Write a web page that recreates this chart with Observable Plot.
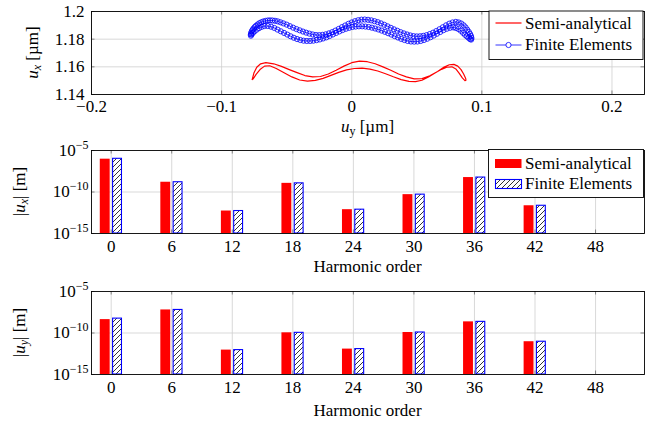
<!DOCTYPE html>
<html><head><meta charset="utf-8">
<script src="https://cdn.jsdelivr.net/npm/d3@7"></script>
<script src="https://cdn.jsdelivr.net/npm/@observablehq/plot@0.6"></script>
<style>
html,body{margin:0;padding:0;background:#fff;}
#wrap{position:relative;width:655px;height:423px;overflow:hidden;font-family:"Liberation Serif","Times New Roman",serif;}
#wrap > div{position:absolute;left:0;}
</style></head><body>
<svg width="0" height="0" style="position:absolute"><defs>
<pattern id="hatch" patternUnits="userSpaceOnUse" width="5" height="5">
<rect width="5" height="5" fill="white"/>
<path d="M-1,1 L1,-1 M0,5 L5,0 M4,6 L6,4" stroke="#000000" stroke-width="0.8"/>
</pattern></defs></svg>
<div id="wrap"></div>
<script>
// ---------- Data ----------
// Semi-analytical trajectory (u_y, u_x) in µm
const semiUy = [-0.0765,-0.0752,-0.0730,-0.0700,-0.0660,-0.0600,-0.0540,-0.0480,-0.0420,-0.0360,-0.0300,-0.0240,-0.0180,-0.0120,-0.0060,0.0000,0.0060,0.0120,0.0180,0.0240,0.0300,0.0360,0.0420,0.0480,0.0540,0.0600,0.0660,0.0710,0.0750,0.0785,0.0815,0.0840,0.0860,0.0875,0.0878,
  0.0870,0.0850,0.0825,0.0800,0.0770,0.0730,0.0690,0.0640,0.0590,0.0540,0.0490,0.0440,0.0380,0.0320,0.0260,0.0200,0.0140,0.0080,0.0020,-0.0040,-0.0100,-0.0160,-0.0220,-0.0280,-0.0340,-0.0400,-0.0460,-0.0520,-0.0580,-0.0630,-0.0670,-0.0705,-0.0735,-0.0758,-0.0765];
const semiUx = [1.1508,1.1555,1.1597,1.1622,1.1630,1.1622,1.1603,1.1580,1.1558,1.1537,1.1527,1.1530,1.1548,1.1575,1.1605,1.1630,1.1641,1.1637,1.1622,1.1600,1.1575,1.1548,1.1527,1.1513,1.1515,1.1535,1.1567,1.1598,1.1615,1.1618,1.1605,1.1580,1.1548,1.1518,1.1503,
  1.1500,1.1520,1.1555,1.1585,1.1600,1.1597,1.1582,1.1556,1.1527,1.1503,1.1493,1.1495,1.1508,1.1528,1.1550,1.1570,1.1584,1.1590,1.1588,1.1578,1.1560,1.1538,1.1517,1.1502,1.1497,1.1505,1.1527,1.1557,1.1588,1.1608,1.1605,1.1580,1.1545,1.1512,1.1508];
// Finite-element trajectory (u_y, u_x) in µm
const feUy = [-0.0775,-0.0773,-0.0768,-0.0762,-0.0755,-0.0745,-0.0735,-0.0723,-0.0710,-0.0695,-0.0680,-0.0663,-0.0645,-0.0628,-0.0610,-0.0590,-0.0570,-0.0548,-0.0525,-0.0500,-0.0475,-0.0450,-0.0425,-0.0400,-0.0375,-0.0350,-0.0325,-0.0300,-0.0275,-0.0250,-0.0225,-0.0200,-0.0175,-0.0150,-0.0125,-0.0100,-0.0075,-0.0050,-0.0025,0.0000,0.0025,0.0050,0.0075,0.0100,0.0125,0.0150,0.0175,0.0200,0.0225,0.0250,0.0275,0.0300,0.0325,0.0350,0.0375,0.0400,0.0425,0.0450,0.0475,0.0500,0.0525,0.0550,0.0575,0.0600,0.0625,0.0650,0.0675,0.0700,0.0725,0.0750,0.0775,0.0800,0.0822,0.0842,0.0860,0.0875,0.0888,0.0900,0.0910,0.0917,0.0920,
  0.0918,0.0910,0.0898,0.0885,0.0870,0.0855,0.0838,0.0820,0.0800,0.0780,0.0755,0.0730,0.0705,0.0680,0.0655,0.0630,0.0605,0.0580,0.0555,0.0530,0.0505,0.0480,0.0455,0.0430,0.0405,0.0380,0.0355,0.0330,0.0305,0.0280,0.0255,0.0230,0.0205,0.0180,0.0155,0.0130,0.0105,0.0080,0.0055,0.0030,0.0005,-0.0020,-0.0045,-0.0070,-0.0095,-0.0120,-0.0145,-0.0170,-0.0195,-0.0220,-0.0245,-0.0270,-0.0295,-0.0320,-0.0345,-0.0370,-0.0395,-0.0420,-0.0445,-0.0470,-0.0495,-0.0520,-0.0545,-0.0570,-0.0595,-0.0620,-0.0645,-0.0670,-0.0692,-0.0712,-0.0730,-0.0747,-0.0760,-0.0770,-0.0775];
const feUx = [1.1835,1.1845,1.1857,1.1867,1.1877,1.1888,1.1897,1.1906,1.1915,1.1922,1.1928,1.1932,1.1935,1.1936,1.1935,1.1933,1.1929,1.1922,1.1914,1.1905,1.1894,1.1883,1.1873,1.1864,1.1855,1.1847,1.1840,1.1834,1.1830,1.1829,1.1831,1.1835,1.1842,1.1851,1.1862,1.1874,1.1887,1.1899,1.1911,1.1921,1.1930,1.1937,1.1941,1.1942,1.1940,1.1936,1.1930,1.1923,1.1914,1.1904,1.1893,1.1882,1.1871,1.1861,1.1851,1.1842,1.1834,1.1827,1.1822,1.1820,1.1821,1.1824,1.1829,1.1837,1.1847,1.1859,1.1872,1.1886,1.1900,1.1912,1.1921,1.1925,1.1921,1.1913,1.1900,1.1885,1.1868,1.1852,1.1837,1.1822,1.1808,
  1.1797,1.1800,1.1810,1.1820,1.1832,1.1846,1.1861,1.1873,1.1881,1.1885,1.1882,1.1875,1.1865,1.1852,1.1839,1.1826,1.1814,1.1803,1.1794,1.1787,1.1783,1.1782,1.1783,1.1787,1.1794,1.1802,1.1812,1.1822,1.1833,1.1843,1.1853,1.1862,1.1870,1.1877,1.1883,1.1888,1.1891,1.1893,1.1893,1.1891,1.1888,1.1882,1.1875,1.1866,1.1856,1.1845,1.1834,1.1823,1.1813,1.1805,1.1798,1.1793,1.1789,1.1787,1.1787,1.1789,1.1794,1.1801,1.1810,1.1821,1.1833,1.1845,1.1857,1.1869,1.1881,1.1890,1.1895,1.1895,1.1889,1.1880,1.1869,1.1857,1.1845,1.1834,1.1825];

const trajXTicks = [-0.2,-0.1,0,0.1,0.2];
const trajXLabels = ["\u22120.2","\u22120.1","0","0.1","0.2"];
const trajYTicks = [1.14,1.16,1.18,1.2];
const trajYLabels = ["1.14","1.16","1.18","1.2"];

// Harmonic amplitudes [m]
const harmonics = [0,6,12,18,24,30,36,42];
const uxSemi = [9.0e-7,1.5e-9,5.1e-13,1.1e-9,7.4e-13,4.8e-11,5.5e-9,2.2e-12];
const uxFE   = [1.0e-6,1.5e-9,5.1e-13,1.1e-9,7.4e-13,4.8e-11,5.5e-9,2.2e-12];
const uySemi = [4.1e-9,6.0e-8,8.7e-13,1.05e-10,1.15e-12,1.15e-10,2.2e-9,8.9e-12];
const uyFE   = [5.4e-9,6.0e-8,8.7e-13,1.05e-10,1.15e-12,1.15e-10,2.2e-9,8.9e-12];
const harmonicTicks = [0,6,12,18,24,30,36,42,48];
const harmonicLabels = ["0","6","12","18","24","30","36","42","48"];
const logTicks = [1e-15,1e-10,1e-5];
const logLabels = ["10^\u221215","10^\u221210","10^\u22125"];

// ---------- Rendering ----------
const FONT = '"Liberation Serif","Times New Roman",serif';
const GRID = "#cfcfcf", TICK = "#5a5a5a";
const W = 655, ML = 91, MR = 11;
const style = {fontFamily: FONT, fontSize: "17px", color: "black", background: "transparent", overflow: "visible"};
const fmt = (ticks, labels) => { const m = new Map(ticks.map((t,i)=>[t, labels[i]])); return d => m.get(d) ?? ""; };

function innerTicks(xt, yt, fw, fh) {
  const o = {stroke: TICK, strokeWidth: 0.7};
  return [
    Plot.ruleX(xt, {...o, insetBottom: fh - 3.5}),
    Plot.ruleX(xt, {...o, insetTop: fh - 3.5}),
    Plot.ruleY(yt, {...o, insetRight: fw - 3.5}),
    Plot.ruleY(yt, {...o, insetLeft: fw - 3.5})
  ];
}

function supify(svg) {
  d3.select(svg).selectAll("text").each(function() {
    const m = /^10\^(.+)$/.exec(this.textContent);
    if (!m) return;
    const s = d3.select(this);
    s.text(null);
    s.append("tspan").text("10");
    s.append("tspan").attr("font-size", "12px").attr("dy", "-7").text(m[1]);
  });
}

function label(svg, x, y, parts, rotate) {
  const t = d3.select(svg).append("text")
    .attr("transform", `translate(${x},${y})` + (rotate ? " rotate(-90)" : ""))
    .attr("text-anchor", "middle").attr("font-family", FONT).attr("font-size", 17).attr("fill", "black");
  for (const p of parts) {
    const ts = t.append("tspan").text(p.t);
    if (p.i) ts.attr("font-style", "italic");
    if (p.s) ts.attr("font-size", 12);
    if (p.dy) ts.attr("dy", p.dy);
  }
}

function legendText(g, x, y, s) {
  g.append("text").attr("x", x).attr("y", y).attr("text-anchor", "start")
    .attr("font-family", FONT).attr("font-size", 17).attr("fill", "black").text(s);
}

const wrap = document.getElementById("wrap");
function place(svg, top) { const d = document.createElement("div"); d.style.top = top + "px"; d.appendChild(svg); wrap.appendChild(d); }

// Plot 1: trajectory
const semi = semiUy.map((v,i)=>({uy: v, ux: semiUx[i]}));
const fe = feUy.map((v,i)=>({uy: v, ux: feUx[i]}));
const H1 = 140, MT1 = 11, MB1 = 46;
const p1 = Plot.plot({
  width: W, height: H1, marginTop: MT1, marginBottom: MB1, marginLeft: ML, marginRight: MR, style,
  x: {domain: [-0.2, 0.225], ticks: trajXTicks, tickFormat: fmt(trajXTicks, trajXLabels), tickSize: 0, tickPadding: 5, label: null},
  y: {domain: [1.14, 1.2], ticks: trajYTicks, tickFormat: fmt(trajYTicks, trajYLabels), tickSize: 0, tickPadding: 7, label: null},
  marks: [
    Plot.ruleX(trajXTicks, {stroke: GRID, strokeWidth: 0.8}),
    Plot.ruleY(trajYTicks, {stroke: GRID, strokeWidth: 0.8}),
    ...innerTicks(trajXTicks, trajYTicks, W - ML - MR, H1 - MT1 - MB1),
    Plot.line(semi, {x: "uy", y: "ux", stroke: "#ff0000", strokeWidth: 1.2}),
    Plot.line(fe, {x: "uy", y: "ux", stroke: "#0000ff", strokeWidth: 0.8}),
    Plot.dot(fe, {x: "uy", y: "ux", r: 2.6, stroke: "#0000ff", strokeWidth: 0.8, fill: "none"}),
    Plot.frame({stroke: "black", strokeWidth: 0.9})
  ]
});
{
  const g = d3.select(p1).append("g");
  g.append("rect").attr("x", 489).attr("y", 11).attr("width", 154).attr("height", 48.5).attr("fill", "white").attr("stroke", "black").attr("stroke-width", 0.9);
  g.append("line").attr("x1", 495.5).attr("x2", 521.5).attr("y1", 23).attr("y2", 23).attr("stroke", "#ff0000").attr("stroke-width", 1.2);
  g.append("line").attr("x1", 495.5).attr("x2", 521.5).attr("y1", 45).attr("y2", 45).attr("stroke", "#0000ff").attr("stroke-width", 0.8);
  g.append("circle").attr("cx", 508.5).attr("cy", 45).attr("r", 2.6).attr("fill", "white").attr("stroke", "#0000ff").attr("stroke-width", 0.8);
  legendText(g, 525, 28.5, "Semi-analytical");
  legendText(g, 525, 50, "Finite Elements");
}
label(p1, 38, 52.5, [{t: "u", i: 1}, {t: "x", i: 1, s: 1, dy: 3}, {t: " [µm]", dy: -3}], true);
label(p1, 367.5, 132, [{t: "u", i: 1}, {t: "y", s: 1, dy: 3}, {t: " [µm]", dy: -3}], false);
place(p1, 0);

// Bar plots
function barPlot(uSemi, uFE, height, mt, mb) {
  const rows = harmonics.map((h,i)=>({h, semi: uSemi[i], fe: uFE[i]}));
  const p = Plot.plot({
    width: W, height, marginTop: mt, marginBottom: mb, marginLeft: ML, marginRight: MR, style,
    x: {domain: [-1.95, 52.85], ticks: harmonicTicks, tickFormat: fmt(harmonicTicks, harmonicLabels), tickSize: 0, tickPadding: 6, label: null},
    y: {type: "log", domain: [1e-15, 1e-5], ticks: logTicks, tickFormat: fmt(logTicks, logLabels), tickSize: 0, tickPadding: 3, label: null},
    marks: [
      Plot.ruleX(harmonicTicks, {stroke: GRID, strokeWidth: 0.8}),
      Plot.ruleY([1e-10], {stroke: GRID, strokeWidth: 0.8}),
      ...innerTicks(harmonicTicks, logTicks, W - ML - MR, height - mt - mb),
      Plot.rect(rows, {x1: d => d.h - 1.08, x2: d => d.h - 0.1, y1: () => 1e-15, y2: "semi", fill: "#ff0000"}),
      Plot.rect(rows, {x1: d => d.h + 0.19, x2: d => d.h + 1.07, y1: () => 1e-15, y2: "fe", fill: "url(#hatch)", stroke: "#0000ff", strokeWidth: 1.1}),
      Plot.frame({stroke: "black", strokeWidth: 0.9})
    ]
  });
  supify(p);
  return p;
}

const p2 = barPlot(uxSemi, uxFE, 140, 10, 47);
{
  const g = d3.select(p2).append("g");
  const y0 = -140;
  g.append("rect").attr("x", 488.5).attr("y", 149.5 + y0).attr("width", 155).attr("height", 48).attr("fill", "white").attr("stroke", "black").attr("stroke-width", 0.9);
  g.append("rect").attr("x", 495).attr("y", 159 + y0).attr("width", 26.5).attr("height", 9).attr("fill", "#ff0000");
  g.append("rect").attr("x", 495.5).attr("y", 179.5 + y0).attr("width", 26).attr("height", 9).attr("fill", "url(#hatch)").attr("stroke", "#0000ff").attr("stroke-width", 1.1);
  legendText(g, 525, 168.5 + y0, "Semi-analytical");
  legendText(g, 525, 188.5 + y0, "Finite Elements");
}
label(p2, 25, 51.5, [{t: "|"}, {t: "u", i: 1}, {t: "x", i: 1, s: 1, dy: 3}, {t: "| [m]", dy: -3}], true);
label(p2, 367.5, 132, [{t: "Harmonic order"}], false);
place(p2, 140);

const p3 = barPlot(uySemi, uyFE, 143, 11, 49);
label(p3, 25, 52.5, [{t: "|"}, {t: "u", i: 1}, {t: "y", i: 1, s: 1, dy: 3}, {t: "| [m]", dy: -3}], true);
label(p3, 367.5, 136, [{t: "Harmonic order"}], false);
place(p3, 280);
</script>
</body></html>
